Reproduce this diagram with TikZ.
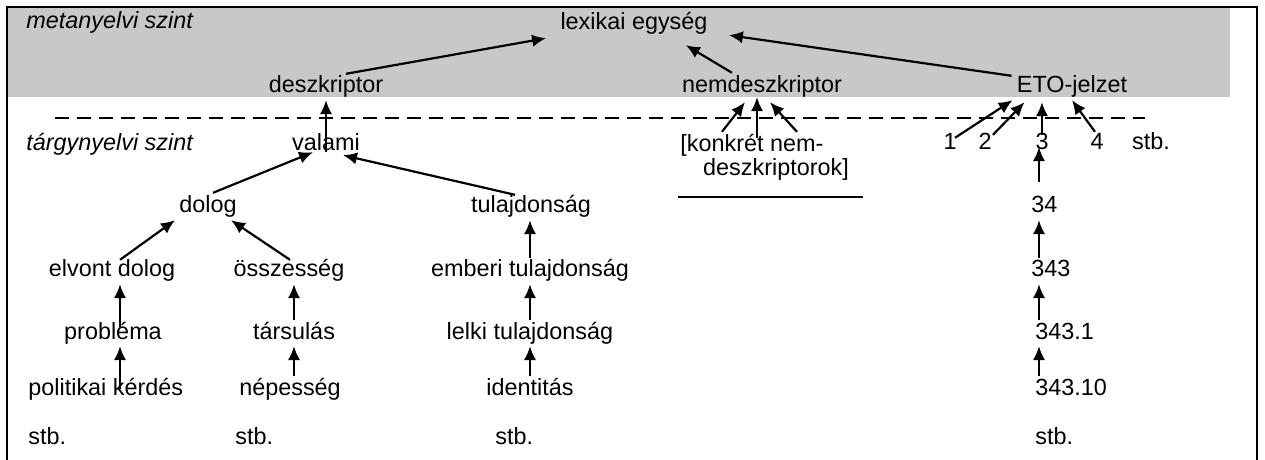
\documentclass[tikz,border=0pt]{standalone}
\usepackage{fontspec}
\setmainfont{Liberation Sans}
\usetikzlibrary{arrows.meta,calc}
\definecolor{bandgray}{RGB}{200,200,200}
\tikzset{
	term/.style={inner sep=1pt, text height=8.4pt, text depth=2.4pt, font=\fontsize{11.7}{14}\selectfont},
	lvl/.style={term, anchor=west, font=\fontsize{11.7}{14}\selectfont\itshape},
	flow/.style={-{Latex[length=7pt,width=6.2pt]}, line width=1.1pt},
	levelcut/.style={dash pattern=on 7pt off 4pt, line width=1.1pt},
	rim/.style={line width=1pt}
}

\begin{document}
\begin{tikzpicture}[x=0.5pt, y=-0.5pt]
	\useasboundingbox (0,0) rectangle (1265,460);
	\fill[bandgray] (8,8) rectangle (1230,97);
	\draw[rim] (7,460) -- (7,7) -- (1257,7) -- (1257,460);
	\draw[levelcut] (55,118) -- (1145,118);
	% level names
	\node[lvl] (meta) at (24,23) {metanyelvi szint};
	\node[lvl] (targy) at (24,145) {tárgynyelvi szint};
	% metalanguage level
	\node[term] (lexikai) at (634,24) {lexikai egység};
	\node[term] (deszk) at (326,87) {deszkriptor};
	\node[term] (nemdeszk) at (762,87) {nemdeszkriptor};
	\node[term] (eto) at (1072,87) {ETO-jelzet};
	% object level
	\node[term] (valami) at (326,145) {valami};
	\node[term] (knd1) at (752,146) {[konkrét nem-};
	\node[term] (knd2) at (776,170) {deszkriptorok]};
	\node[term] (n1) at (950,144) {1};
	\node[term] (n2) at (985,144) {2};
	\node[term] (n3) at (1042,144) {3};
	\node[term] (n4) at (1097,144) {4};
	\node[term] (stbtop) at (1151,144) {stb.};
	\node[term] (dolog) at (208,207) {dolog};
	\node[term] (tulajd) at (531,207) {tulajdonság};
	\node[term, anchor=west] (n34) at (1029,207) {34};
	\node[term] (elvont) at (112,271) {elvont dolog};
	\node[term] (osszes) at (289,271) {összesség};
	\node[term] (emberi) at (530,271) {emberi tulajdonság};
	\node[term, anchor=west] (n343) at (1029,271) {343};
	\node[term] (problema) at (113,333) {probléma};
	\node[term] (tarsulas) at (294,333) {társulás};
	\node[term] (lelki) at (530,333) {lelki tulajdonság};
	\node[term, anchor=west] (n3431) at (1033,333) {343.1};
	\node[term, anchor=west] (politikai) at (26,389) {politikai kérdés};
	\node[term] (nepesseg) at (290,389) {népesség};
	\node[term] (identitas) at (530,389) {identitás};
	\node[term, anchor=west] (n34310) at (1033,389) {343.10};
	\node[term, anchor=west] (stba) at (26,438) {stb.};
	\node[term, anchor=west] (stbb) at (233,438) {stb.};
	\node[term, anchor=west] (stbc) at (493,438) {stb.};
	\node[term, anchor=west] (stbd) at (1033,438) {stb.};
	\draw[rim] (678,197) -- (863,197);
	% columns of the vertical chains
	\coordinate (colA) at (120,0);
	\coordinate (colB) at (294,0);
	\coordinate (colC) at (530,0);
	\coordinate (colD) at (1039,0);
	% up to lexikai egyseg
	\draw[flow] ($(deszk.north)+(20,0)$) -- ($(lexikai.south west)+(-12,1)$);
	\draw[flow] ($(nemdeszk.north)+(-30,-1)$) -- ($(lexikai.south east)+(-24,8)$);
	\draw[flow] ($(eto.north west)+(-3,2)$) -- ($(lexikai.south east)+(19,-2)$);
	% across the cut
	\draw[flow] ($(valami.south)+(0,-6)$) -- (deszk.south);
	\draw[flow] ($(knd1.north)+(-30,-1)$) -- ($(nemdeszk.south)+(-17,2)$);
	\draw[flow] ($(knd1.north)+(5,5)$) -- ($(nemdeszk.south)+(-5,-3)$);
	\draw[flow] ($(knd1.north)+(45,-1)$) -- ($(nemdeszk.south)+(8,2)$);
	\draw[flow] ($(n1.north)+(5,7)$) -- ($(eto.south west)+(-2,0)$);
	\draw[flow] ($(n2.north)+(8,4)$) -- ($(eto.south west)+(10,2)$);
	\draw[flow] ($(n3.north)+(0,4)$) -- ($(n3.north |- eto.south)+(0,2)$);
	\draw[flow] ($(n4.north)+(-2,1)$) -- (eto.south);
	% tree of valami
	\draw[flow] ($(dolog.north)+(5,-1)$) -- ($(valami.south)+(-13,-6)$);
	\draw[flow] ($(tulajd.north)+(-16,1)$) -- ($(valami.south)+(17,-3)$);
	\draw[flow] ($(elvont.north)+(8,2)$) -- ($(dolog.south west)+(-2,0)$);
	\draw[flow] ($(osszes.north)+(1,2)$) -- ($(dolog.south east)+(-8,0)$);
	\draw[flow] ($(problema.north -| colA)+(0,7)$) -- (elvont.south -| colA);
	\draw[flow] (politikai.center -| colA) -- (problema.south -| colA);
	\draw[flow] (tarsulas.north -| colB) -- (osszes.south -| colB);
	\draw[flow] (nepesseg.north -| colB) -- (tarsulas.south -| colB);
	\draw[flow] (emberi.north -| colC) -- (tulajd.south -| colC);
	\draw[flow] (lelki.north -| colC) -- (emberi.south -| colC);
	\draw[flow] (identitas.north -| colC) -- (lelki.south -| colC);
	% ETO chain
	\draw[flow] ($(n34.north -| colD)+(0,-12)$) -- ($(n3.south -| colD)+(0,-10)$);
	\draw[flow] (n343.north -| colD) -- (n34.south -| colD);
	\draw[flow] (n3431.north -| colD) -- (n343.south -| colD);
	\draw[flow] (n34310.north -| colD) -- (n3431.south -| colD);
\end{tikzpicture}
\end{document}
